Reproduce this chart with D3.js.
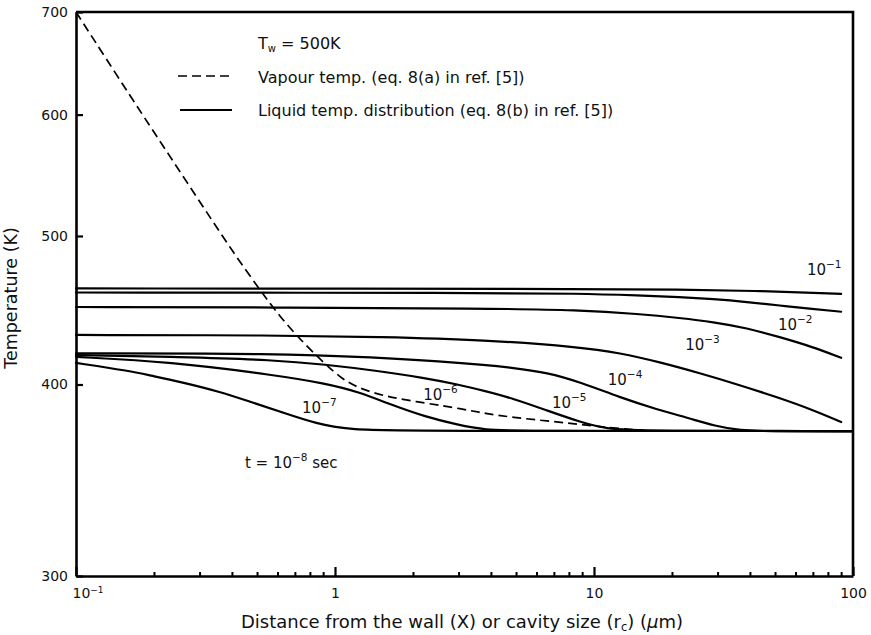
<!DOCTYPE html>
<html>
<head>
<meta charset="utf-8">
<script src="https://cdn.jsdelivr.net/npm/d3@7"></script>
<style>
  body { margin: 0; background: #fff; }
  svg text { font-family: "DejaVu Sans", sans-serif; fill: #111; }
</style>
</head>
<body>
<svg id="chart" width="871" height="635"></svg>
<script>
// Axis ticks
const yTicks = [300, 400, 500, 600, 700];
const xMajorTicks = [0.1, 1, 10, 100];
const xMinorMultipliers = [2, 3, 4, 5, 6, 7, 8, 9];

// Vapour temperature, eq. 8(a): [distance (µm), temperature (K)]
const vapour = [
  [0.1, 700], [0.166, 613], [0.225, 567], [0.32, 518], [0.404, 488],
  [0.513, 461], [0.613, 443], [0.733, 428], [0.915, 412.5], [1.06, 403.6],
  [1.23, 397.9], [1.56, 392.8], [2.23, 389], [3.09, 385.6], [3.79, 383],
  [4.87, 380.7], [6.58, 378.7], [8.83, 376.7], [11.8, 374.7], [15.7, 373.3]
];

// Liquid temperature distribution, eq. 8(b), one curve per time t (s)
const liquid_t1 = [[0.1, 462.1], [8.8, 461.8], [21.5, 461.4], [43.7, 460.4], [90, 458.3]];
const liquid_t2 = [[0.1, 459.3], [3.8, 459], [8.8, 458.6], [15, 457.2], [21.5, 456.2], [28.8, 454.8],
  [39, 452.8], [52, 450.4], [70, 448.1], [90, 446.2]];
const liquid_t3 = [[0.1, 449.4], [0.6, 449.1], [3.8, 448.4], [8.8, 447.4], [15, 444.7], [21.5, 442],
  [28.8, 439.4], [39, 435.4], [52, 429.6], [70, 423.2], [90, 416.4]];
const liquid_t4 = [[0.1, 430.9], [0.6, 430.7], [1.5, 429.6], [3.8, 427.7], [8.8, 423.2], [12.6, 419.4],
  [17.9, 413.7], [25.6, 406.9], [36.5, 399.7], [52, 392], [70, 385], [90, 378.1]];
const liquid_t5 = [[0.1, 419.1], [0.6, 419.1], [1.43, 416.6], [2.59, 414.1], [3.8, 411.9], [4.95, 410],
  [6.58, 407.3], [8.83, 401.5], [12.6, 392.3], [17.5, 385.3], [23.5, 380.1], [29.3, 375.8],
  [36.6, 373.3], [47.8, 373], [100, 373]];
const liquid_t6 = [[0.1, 418.1], [0.252, 416.9], [0.587, 415], [0.915, 412.2], [1.43, 408.5], [2.23, 403.9],
  [2.99, 400], [3.79, 396.1], [4.87, 391.7], [6.58, 384.7], [8.83, 378.1], [11.2, 374.1], [15, 373], [100, 373]];
const liquid_t7 = [[0.1, 416.9], [0.23, 413.9], [0.587, 405.7], [0.915, 400.7], [1.23, 395.7], [1.66, 387.8],
  [2.23, 381.1], [2.99, 376.4], [3.79, 373.6], [5.2, 373], [100, 373]];
const liquid_t8 = [[0.1, 413.2], [0.16, 408.3], [0.193, 405.5], [0.252, 401.7], [0.36, 395.7], [0.47, 389.8],
  [0.62, 383.8], [0.85, 377], [1.14, 373.8], [1.78, 373], [100, 373]];

// Time exponents (t = 10^n s) and where each curve's label sits [distance, temperature]
const timeExponents = [-1, -2, -3, -4, -5, -6, -7, -8];
const labelAnchors = [[66.4, 471.5], [51.3, 434.1], [22.5, 421.3], [11.3, 399.7],
  [6.88, 386.1], [2.19, 390.8], [0.746, 383.2], [0.449, 352.8]];

const liquidCurves = [liquid_t1, liquid_t2, liquid_t3, liquid_t4, liquid_t5, liquid_t6, liquid_t7, liquid_t8];

const svg = d3.select("#chart");
svg.append("rect").attr("width", 871).attr("height", 635).attr("fill", "#fff");

const x = d3.scaleLog().domain([0.1, 100]).range([76, 853]);
const y = d3.scaleLog().domain([300, 700]).range([576, 12]);

// B-spline through the sampled points keeps the drawn curves smooth
const line = d3.line().x(d => x(d[0])).y(d => y(d[1])).curve(d3.curveBasis);

// Liquid curves
svg.append("g").selectAll("path").data(liquidCurves).join("path")
  .attr("d", line)
  .attr("fill", "none").attr("stroke", "#000").attr("stroke-width", 2.2)
  .attr("stroke-linejoin", "round").attr("stroke-linecap", "round");

// Vapour curve
svg.append("path").datum(vapour)
  .attr("d", line)
  .attr("fill", "none").attr("stroke", "#000").attr("stroke-width", 1.7)
  .attr("stroke-dasharray", "9,5");

// Left axis
const yAxis = d3.axisLeft(y).tickValues(yTicks).tickFormat(d3.format("d"))
  .tickSizeInner(-7).tickSizeOuter(0).tickPadding(8);
const gy = svg.append("g").attr("transform", `translate(${x(0.1)},0)`).call(yAxis);
gy.select(".domain").attr("stroke-width", 2.6);
gy.selectAll(".tick line").attr("stroke-width", 2.2);
gy.selectAll(".tick text").attr("font-size", 14).attr("font-family", "DejaVu Sans").attr("fill", "#111");

// Bottom axis: minor ticks
const xMinorTicks = xMajorTicks.slice(0, -1).flatMap(d => xMinorMultipliers.map(m => m * d));
const gxMinor = svg.append("g").attr("transform", `translate(0,${y(300)})`)
  .call(d3.axisBottom(x).tickValues(xMinorTicks).tickFormat("").tickSizeInner(-4).tickSizeOuter(0));
gxMinor.select(".domain").attr("stroke-width", 2.6);
gxMinor.selectAll(".tick line").attr("stroke-width", 2);

// Bottom axis: decades with labels
const gxMajor = svg.append("g").attr("transform", `translate(0,${y(300)})`)
  .call(d3.axisBottom(x).tickValues(xMajorTicks).tickFormat(d3.format("d"))
    .tickSizeInner(-9).tickSizeOuter(0).tickPadding(12));
gxMajor.select(".domain").remove();
gxMajor.selectAll(".tick line").attr("stroke-width", 2.2);
gxMajor.selectAll(".tick text").attr("font-size", 14).attr("font-family", "DejaVu Sans").attr("fill", "#111")
  .each(function(d) {
    if (d < 1) {
      const t = d3.select(this).text(null).attr("text-anchor", "start").attr("x", -4);
      t.append("tspan").text("10");
      t.append("tspan").attr("font-size", 9).attr("dy", "-0.6em").text("−" + Math.round(-Math.log10(d)));
    }
  });

// Frame (top and right)
svg.append("path")
  .attr("d", `M${x(0.1)},${y(700)}H${x(100)}V${y(300)}`)
  .attr("fill", "none").attr("stroke", "#000").attr("stroke-width", 2.6);

// Curve labels
const labels = svg.append("g").attr("font-size", 15);
timeExponents.forEach((n, i) => {
  const [ax, at] = labelAnchors[i];
  const t = labels.append("text").attr("x", x(ax)).attr("y", y(at));
  if (n === -8) t.append("tspan").text("t = ");
  t.append("tspan").text("10");
  t.append("tspan").attr("font-size", 10.5).attr("dy", -7).text("−" + (-n));
  if (n === -8) t.append("tspan").attr("dy", 7).text(" sec");
});

// Legend
const legend = svg.append("g").attr("font-size", 16);
const tw = legend.append("text").attr("x", 258).attr("y", 49);
tw.append("tspan").text("T");
tw.append("tspan").attr("font-size", 10).attr("dy", 3).text("w");
tw.append("tspan").attr("dy", -3).text(" = 500K");
legend.append("line").attr("x1", 178).attr("x2", 232).attr("y1", 76).attr("y2", 76)
  .attr("stroke", "#000").attr("stroke-width", 1.7).attr("stroke-dasharray", "9,5");
legend.append("text").attr("x", 258).attr("y", 83).text("Vapour temp. (eq. 8(a) in ref. [5])");
legend.append("line").attr("x1", 180).attr("x2", 232).attr("y1", 110).attr("y2", 110)
  .attr("stroke", "#000").attr("stroke-width", 2);
legend.append("text").attr("x", 258).attr("y", 116).text("Liquid temp. distribution (eq. 8(b) in ref. [5])");

// Axis titles
svg.append("text").attr("transform", "translate(17,298) rotate(-90)")
  .attr("text-anchor", "middle").attr("font-size", 17.5).text("Temperature (K)");
const xt = svg.append("text").attr("x", 462).attr("y", 628).attr("text-anchor", "middle").attr("font-size", 18);
xt.append("tspan").text("Distance from the wall (X) or cavity size (r");
xt.append("tspan").attr("font-size", 11.5).attr("dy", 3).text("c");
xt.append("tspan").attr("dy", -3).text(") (");
xt.append("tspan").attr("font-style", "italic").text("μ");
xt.append("tspan").text("m)");
</script>
</body>
</html>
